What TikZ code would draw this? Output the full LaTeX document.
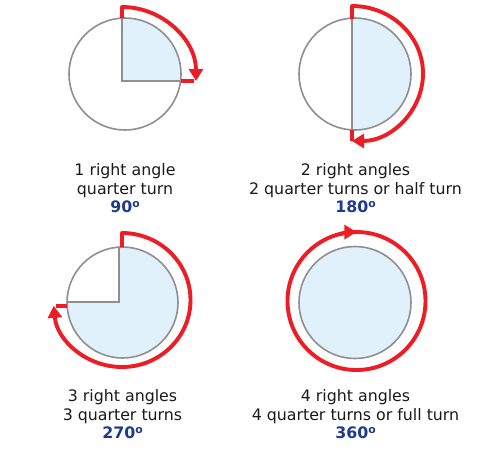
\documentclass[tikz,border=0pt]{standalone}
\usepackage{fontspec}
\setmainfont{DejaVu Sans}
\usetikzlibrary{arrows.meta}
\definecolor{turnred}{HTML}{EE1C25}
\definecolor{rimgray}{HTML}{8F8F8F}
\definecolor{paleblue}{HTML}{E1F1FB}
\definecolor{degblue}{HTML}{1F3A8D}
\newcommand{\degsign}{\raisebox{4.7pt}{\fontsize{10.8}{10.8}\selectfont o}}
\begin{document}
\begin{tikzpicture}[x=1pt,y=1pt,
  rim/.style={draw=rimgray,line width=1.6pt},
  turn/.style={draw=turnred,line width=3.9pt,line join=round},
  tip/.style={-{Triangle[length=12pt,width=14pt]}},
  lbl/.style={anchor=base,inner sep=0pt,font=\fontsize{15.8}{18}\selectfont,text=black!90},
  deg/.style={anchor=base,inner sep=0pt,font=\fontsize{15.8}{18}\selectfont\bfseries,text=degblue}]
\useasboundingbox (0,0) rectangle (500,-464);

% ---- circle 1: quarter turn
\begin{scope}
  \clip (125,-74) circle (56);
  \fill[paleblue] (122,-81) rectangle (200,0);
  \draw[draw=rimgray,line width=1.2pt] (122,0) -- (122,-81) -- (200,-81);
\end{scope}
\draw[rim] (125,-74) circle (56);
\draw[turn,tip] (122,-18) -- (122,-7) arc[start angle=90,end angle=0,radius=74];
\draw[turn] (180.5,-81) -- (194,-81);

% ---- circle 2: half turn
\begin{scope}
  \clip (355,-74) circle (56);
  \fill[paleblue] (352,0) rectangle (420,-140);
  \draw[draw=rimgray,line width=1.2pt] (352,0) -- (352,-140);
\end{scope}
\draw[rim] (355,-74) circle (56);
\draw[turn,tip] (352,-19) -- (352,-6) arc[start angle=90,end angle=-90,x radius=71,y radius=67.5];
\draw[turn] (352,-129.9) -- (352,-141);

% ---- circle 3: three quarter turns
\fill[paleblue] (122.5,-302.5) circle (55.5);
\begin{scope}
  \clip (122.5,-302.5) circle (55.5);
  \fill[white] (119,-302) rectangle (60,-240);
  \draw[draw=rimgray,line width=1.2pt] (119,-240) -- (119,-302) -- (60,-302);
\end{scope}
\draw[rim] (122.5,-302.5) circle (55.5);
\draw[turn,tip] (122,-247) -- (122,-233) arc[start angle=90,end angle=-175,x radius=68.5,y radius=67];
\draw[turn] (56,-305.8) -- (67.1,-305.8);

% ---- circle 4: full turn
\fill[paleblue] (355,-302.5) circle (56);
\draw[rim] (355,-302.5) circle (56);
\draw[turn] (356.5,-301) circle (69);
\draw[turn,tip] (338.6,-234.4) arc[start angle=105,end angle=90,radius=69];

% ---- labels
\node[lbl] (a1) at (125,-175.7) {1 right angle};
\node[lbl] (a2) at (125,-194) {quarter turn};
\node[deg] (a3) at (125,-212.3) {90\degsign};

\node[lbl] (b1) at (355.5,-175.7) {2 right angles};
\node[lbl] (b2) at (355.5,-194) {2 quarter turns or half turn};
\node[deg] (b3) at (355.5,-212.3) {180\degsign};

\node[lbl] (c1) at (122.5,-401.7) {3 right angles};
\node[lbl] (c2) at (122.5,-420) {3 quarter turns};
\node[deg] (c3) at (122.5,-438.5) {270\degsign};

\node[lbl] (d1) at (355.5,-401.7) {4 right angles};
\node[lbl] (d2) at (355.5,-420) {4 quarter turns or full turn};
\node[deg] (d3) at (355.5,-438.5) {360\degsign};
\end{tikzpicture}
\end{document}
